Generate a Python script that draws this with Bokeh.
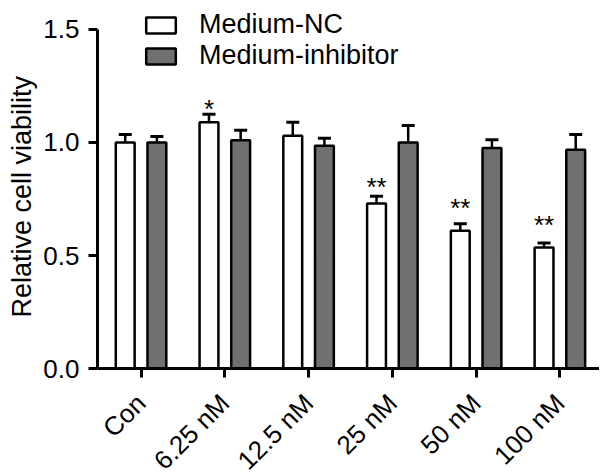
import numpy as np
from bokeh.plotting import figure
from bokeh.models import (ColumnDataSource, Range1d, FixedTicker, Whisker, TeeHead,
                          Legend, LegendItem, Title)
from bokeh.embed import file_html
from bokeh.resources import INLINE
from bokeh.core.properties import value

# ---- data ----
categories = ["Con", "6.25 nM", "12.5 nM", "25 nM", "50 nM", "100 nM"]
series_names = ["Medium-NC", "Medium-inhibitor"]
nc_mean = [1.00, 1.09, 1.03, 0.73, 0.61, 0.535]
nc_err = [0.035, 0.035, 0.06, 0.032, 0.03, 0.02]
inh_mean = [1.00, 1.01, 0.985, 1.00, 0.976, 0.968]
inh_err = [0.027, 0.044, 0.034, 0.075, 0.036, 0.067]
nc_sig = ["", "*", "", "**", "**", "**"]
nc_sig_y = [1.10, 1.177, 1.15, 0.832, 0.743, 0.664]   # height of the significance marks
y_ticks = [0.0, 0.5, 1.0, 1.5]
y_tick_labels = ["0.0", "0.5", "1.0", "1.5"]
y_label = "Relative cell viability"

FONT = "Liberation Sans"
GRAY = "#707070"
LW = 2.5

idx = np.arange(len(categories), dtype=float)
off = 0.189
bw = 0.225

nc_src = ColumnDataSource(dict(
    x=idx - off, top=nc_mean,
    upper=[m + e for m, e in zip(nc_mean, nc_err)], sig=nc_sig, sig_y=nc_sig_y))
inh_src = ColumnDataSource(dict(
    x=idx + off, top=inh_mean,
    upper=[m + e for m, e in zip(inh_mean, inh_err)]))

p = figure(width=599, height=475, output_backend="svg", toolbar_location=None,
           x_range=Range1d(-0.52, 5.473), y_range=Range1d(-0.473, 1.628),
           min_border_left=92, min_border_right=0, min_border_top=0,
           min_border_bottom=0)
p.outline_line_color = None
p.xgrid.grid_line_color = None
p.ygrid.grid_line_color = None
p.background_fill_color = "white"
p.border_fill_color = "white"

r_nc = p.vbar(x="x", top="top", bottom=0, width=bw, source=nc_src,
              fill_color="white", line_color="black", line_width=LW)
r_inh = p.vbar(x="x", top="top", bottom=0, width=bw, source=inh_src,
               fill_color=GRAY, line_color="black", line_width=LW)

for src in (nc_src, inh_src):
    w = Whisker(source=src, base="x", lower="top", upper="upper",
                dimension="height", line_color="black", line_width=LW,
                upper_head=TeeHead(size=13, line_color="black", line_width=LW + 0.5),
                lower_head=None, level="underlay")
    p.add_layout(w)

p.text(x="x", y="sig_y", text="sig", source=nc_src, text_align="center",
       text_baseline="alphabetic", y_offset=7, text_font=value(FONT),
       text_font_size="26px", text_color="black")

# axes
p.xaxis.fixed_location = 0
p.xaxis.ticker = FixedTicker(ticks=list(idx))
p.xaxis.major_label_overrides = {float(i): c for i, c in enumerate(categories)}
p.xaxis.major_label_orientation = np.pi / 4
p.xaxis.major_label_standoff = 21
p.yaxis.ticker = FixedTicker(ticks=y_ticks)
p.yaxis.major_label_overrides = {t: l for t, l in zip(y_ticks, y_tick_labels)}
p.yaxis.bounds = (0, 1.5)

for ax in (p.xaxis, p.yaxis):
    ax.axis_line_width = 3
    ax.axis_line_color = "black"
    ax.major_tick_line_width = 3
    ax.major_tick_line_color = "black"
    ax.major_tick_in = 0
    ax.major_tick_out = 9
    ax.minor_tick_line_color = None
    ax.major_label_text_font = FONT
    ax.major_label_text_font_size = "26px"
    ax.major_label_text_color = "black"
p.yaxis.major_label_standoff = 9

# y-axis title, centred on the drawn axis (0..1.5) rather than the whole frame
ytitle = Title(text=y_label, align="left", offset=158, standoff=8,
               text_font=FONT, text_font_size="27px", text_font_style="normal",
               text_color="black")
p.add_layout(ytitle, "left")

legend = Legend(items=[LegendItem(label=series_names[0], renderers=[r_nc]),
                       LegendItem(label=series_names[1], renderers=[r_inh])],
                location=(45, 404), orientation="vertical",
                glyph_width=37, glyph_height=20, label_height=30, label_standoff=20,
                spacing=0, padding=0, margin=0,
                border_line_color=None, background_fill_alpha=0,
                label_text_font=FONT, label_text_font_size="27px",
                label_text_color="black")
p.add_layout(legend, "center")

open("out.html", "w").write(file_html(p, INLINE))
